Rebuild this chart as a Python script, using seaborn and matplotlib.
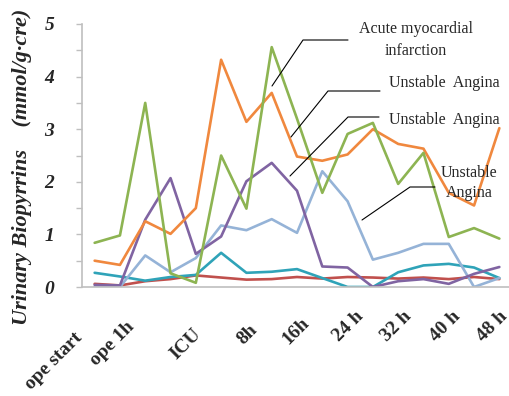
import matplotlib
matplotlib.use("Agg")
import matplotlib.pyplot as plt
from matplotlib.transforms import ScaledTranslation
import seaborn as sns
import pandas as pd
import numpy as np

timepoints = list(range(17))
tick_positions = timepoints[::2]
tick_labels = ["ope start", "ope 1h", "ICU", "8h", "16h", "24 h", "32 h", "40 h", "48 h"]

red = [0.06, 0.03, 0.11, 0.15, 0.22, 0.18, 0.14, 0.15, 0.19, 0.16, 0.19, 0.18, 0.16, 0.18, 0.15, 0.19, 0.15]
teal = [0.27, 0.20, 0.12, 0.19, 0.23, 0.65, 0.27, 0.29, 0.34, 0.17, 0.0, 0.0, 0.28, 0.41, 0.44, 0.37, 0.17]
lightblue = [0.0, 0.0, 0.60, 0.28, 0.55, 1.17, 1.08, 1.29, 1.03, 2.20, 1.63, 0.52, 0.65, 0.82, 0.82, 0.0, 0.17]
purple = [0.04, 0.03, 1.28, 2.07, 0.63, 0.96, 2.01, 2.36, 1.83, 0.39, 0.37, 0.0, 0.11, 0.15, 0.06, 0.25, 0.38]
orange = [0.50, 0.42, 1.25, 1.01, 1.50, 4.32, 3.14, 3.69, 2.48, 2.40, 2.52, 3.00, 2.72, 2.63, 1.79, 1.55, 3.02]
green = [0.84, 0.98, 3.50, 0.26, 0.08, 2.50, 1.49, 4.56, 3.20, 1.79, 2.91, 3.12, 1.96, 2.55, 0.95, 1.12, 0.92]

series_names = ["red", "teal", "lightblue", "purple", "orange", "green"]
series_vals = [red, teal, lightblue, purple, orange, green]
colors = {"red": "#C0504D", "teal": "#2FA3B8", "lightblue": "#95B3D7",
          "purple": "#8064A2", "orange": "#F0883E", "green": "#8DB452"}

rows = []
for name, vals in zip(series_names, series_vals):
    for t, v in zip(timepoints, vals):
        rows.append({"t": t, "value": v, "series": name})
df = pd.DataFrame(rows)

sns.set_style("white")
plt.rcParams["font.family"] = ["Liberation Serif", "DejaVu Serif"]

fig = plt.figure(figsize=(5.10, 3.96), dpi=100)
ax = fig.add_axes([82 / 510, 109 / 396, 430 / 510, 263 / 396])

sns.lineplot(data=df, x="t", y="value", hue="series", palette=colors,
             hue_order=series_names, linewidth=1.9, legend=False, ax=ax)

ax.set_xlim(-0.5, 16.5)
ax.set_ylim(0, 5)
ax.set_yticks([0, 1, 2, 3, 4, 5])
ax.set_yticks(np.arange(0.5, 5, 1.0), minor=True)
ax.set_yticklabels(["0", "1", "2", "3", "4", "5"], fontsize=14, fontweight="bold", style="italic")
ax.tick_params(axis="y", which="both", direction="out", length=4, color="#BFBFBF", width=1,
               left=True, pad=16)
ax.set_xticks(tick_positions)
ax.set_xticklabels([])
ax.tick_params(axis="x", length=0)

# rotated category labels (Excel-like placement), offsets in pixels from tick/axis
label_offsets = [(-15, 48), (-14, 37), (3, 45), (8, 40), (10, 33), (13, 27), (11, 27), (9, 27), (5, 27)]
for pos, lab, (dx, dy) in zip(tick_positions, tick_labels, label_offsets):
    tr = ax.get_xaxis_transform() + ScaledTranslation(dx / 100, -dy / 100, fig.dpi_scale_trans)
    ax.text(pos, 0, lab, transform=tr, rotation=45, ha="right", va="center",
            rotation_mode="anchor", fontsize=14, fontweight="bold", clip_on=False)

for s in ["top", "right"]:
    ax.spines[s].set_visible(False)
for s in ["left", "bottom"]:
    ax.spines[s].set_color("#BFBFBF")
    ax.spines[s].set_linewidth(1.2)
ax.set_xlabel("")
ax.set_ylabel("Urinary Biopyrrins    (mmol/g\u00b7cre)", fontsize=16, fontweight="bold",
              style="italic")
ax.yaxis.set_label_coords(-0.116, 0.456)

def fx(px):
    return px / 510

def fy(py):
    return 1 - py / 396

lines = [
    [(272, 86), (303, 40), (348, 40)],
    [(291, 137), (328, 91), (380, 91)],
    [(290, 176), (348, 117), (379, 117)],
    [(362, 220), (410, 187), (435, 187)],
]
for pts in lines:
    xs = [fx(p[0]) for p in pts]
    ys = [fy(p[1]) for p in pts]
    fig.add_artist(plt.Line2D(xs, ys, color="black", linewidth=0.8))

fig.text(fx(416), fy(40), "Acute myocardial\ninfarction", ha="center", va="center",
         fontsize=11.5, linespacing=1.45)
fig.text(fx(389), fy(83), "Unstable  Angina", ha="left", va="center", fontsize=11.5)
fig.text(fx(389), fy(120), "Unstable  Angina", ha="left", va="center", fontsize=11.5)
fig.text(fx(469), fy(183), "Unstable\nAngina", ha="center", va="center", fontsize=11.5,
         linespacing=1.35)

fig.savefig("out.png", dpi=100)
